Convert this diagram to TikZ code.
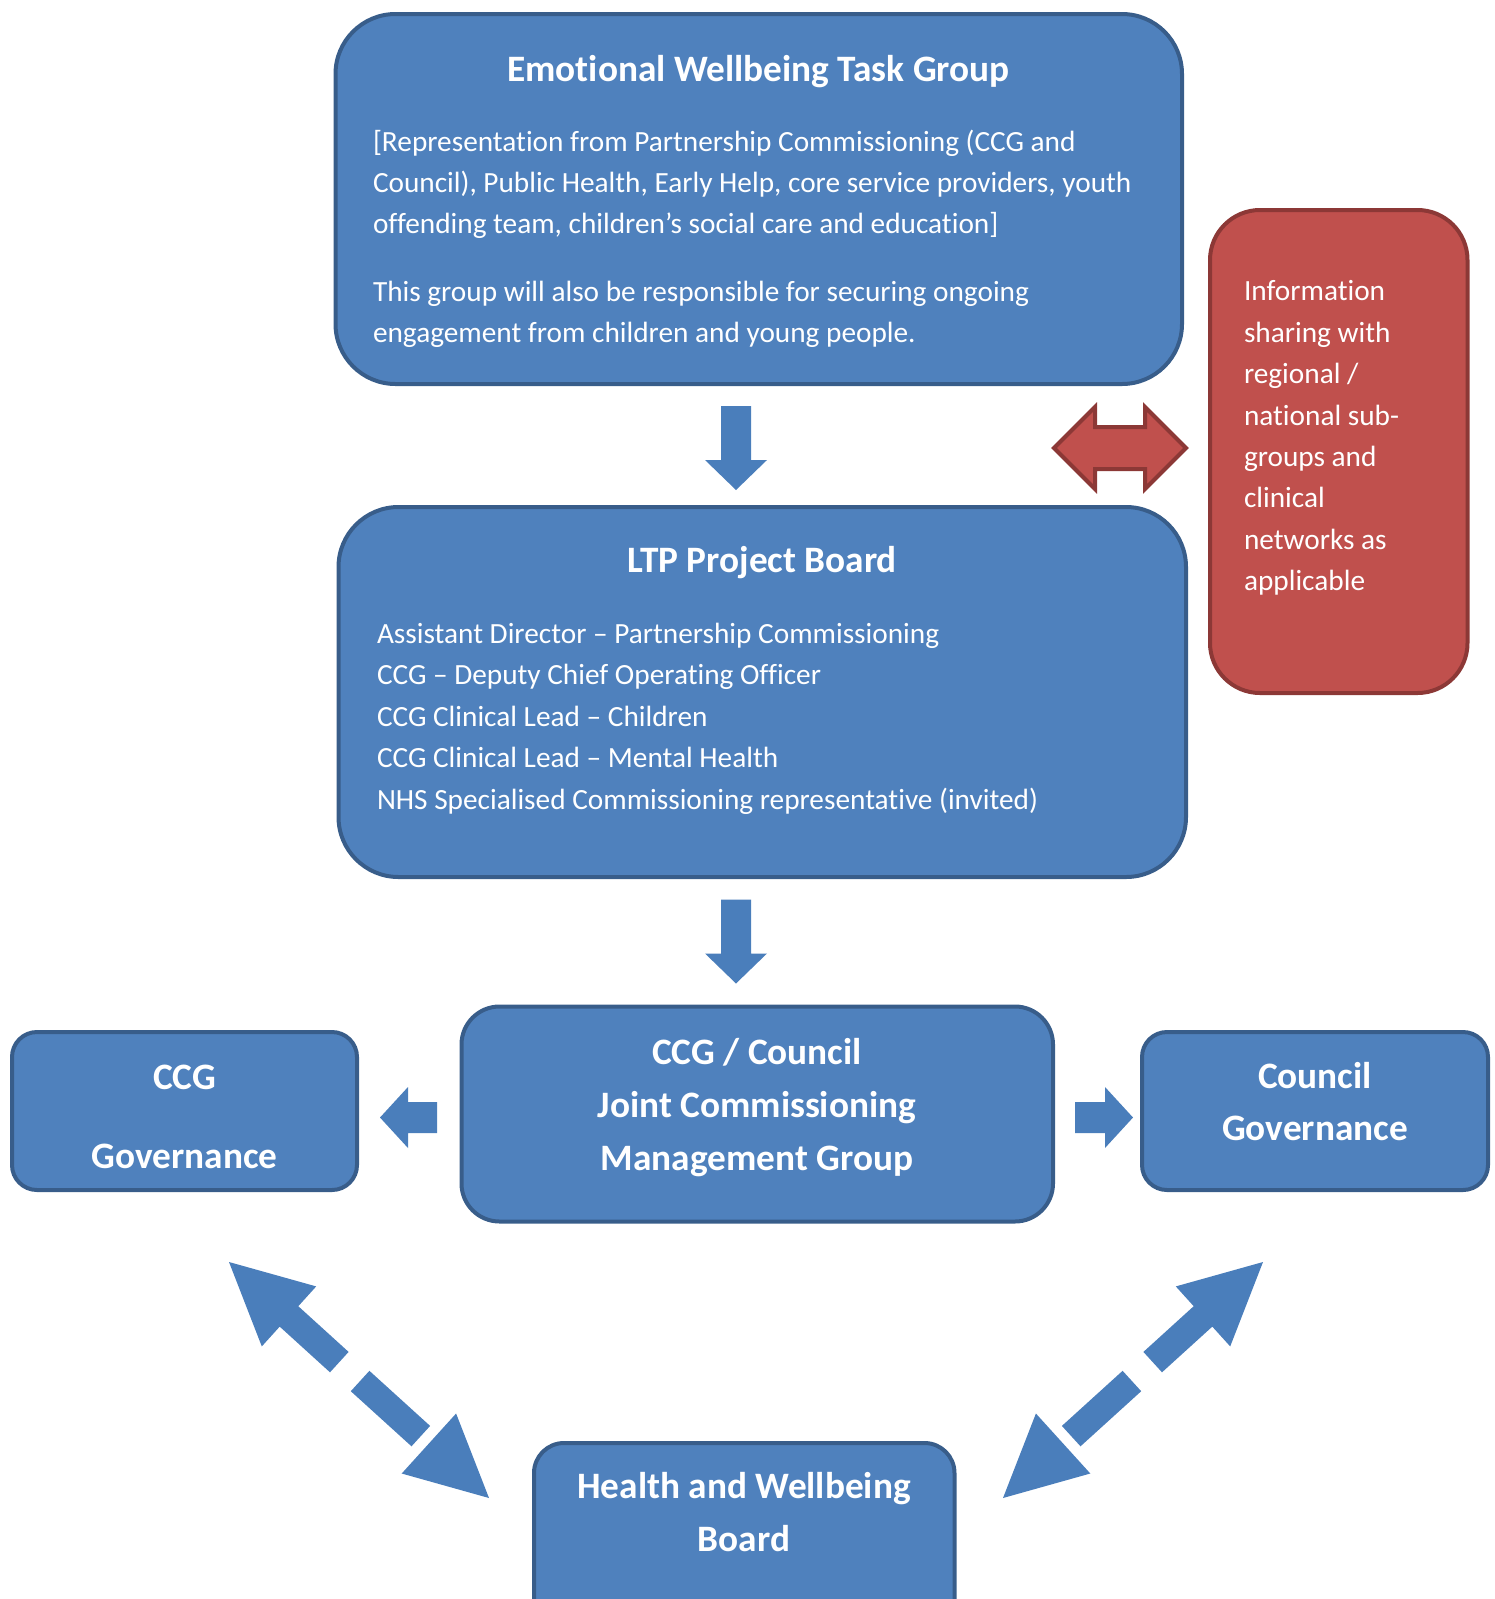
\documentclass[tikz,border=0pt]{standalone}
\usepackage{fontspec}
\setmainfont{Carlito}[Ligatures={NoCommon}]
\definecolor{boxblue}{HTML}{4F81BD}
\definecolor{boxborder}{HTML}{385D8A}
\definecolor{arrowblue}{HTML}{4A7EBB}
\definecolor{boxred}{HTML}{C0504D}
\definecolor{redborder}{HTML}{8C3836}
\tikzset{
  box/.style={draw=boxborder, fill=boxblue, line width=4pt, rounded corners=#1,
    anchor=north west, outer sep=0pt, inner sep=0pt},
  redbox/.style={draw=redborder, fill=boxred, line width=4pt, rounded corners=#1,
    anchor=north west, outer sep=0pt, inner sep=0pt},
  txt/.style={text=white, inner sep=0pt, outer sep=0pt, font=\fontsize{29.3}{35}\selectfont},
  ttl/.style={text=white, inner sep=0pt, outer sep=0pt, font=\bfseries\fontsize{37.3}{45}\selectfont},
  blockarrow/.style={fill=arrowblue, draw=none},
  redarrow/.style={fill=boxred, draw=redborder, line width=4pt, line join=miter}
}
\newcommand\DiagArrowShape{%
  \fill[blockarrow] (229,1262) -- (316.2,1286.4) -- (298.3,1306.2) -- (348.6,1351.9)
     -- (330.0,1372.3) -- (279.7,1326.6) -- (261.8,1346.4) -- cycle;
  \fill[blockarrow] (369.4,1370.8) -- (430.1,1425.9) -- (411.5,1446.3) -- (350.8,1391.2) -- cycle;
  \fill[blockarrow] (489,1498) -- (401.7,1473.5) -- (456.1,1413.5) -- cycle;
}
\newcommand\DownArrowShape[1]{%
  \fill[blockarrow] (721,#1) -- (751,#1) -- (751,#1+54) -- (767,#1+54) -- (736,#1+84)
     -- (705,#1+54) -- (721,#1+54) -- cycle;
}
\begin{document}
\begin{tikzpicture}[x=1pt,y=-1pt]
\path[use as bounding box] (0,0) rectangle (1495,1599);
\clip (0,0) rectangle (1495,1599);

% ---------------- boxes ----------------
\node[box=60pt, minimum width=846.5pt, minimum height=370pt] (ewtg) at (335.5,14) {};
\node[redbox=50pt, minimum width=257.5pt, minimum height=483pt] (info) at (1210,210) {};
\node[box=60pt, minimum width=847.5pt, minimum height=370pt] (ltp) at (338.5,507) {};
\node[box=38pt, minimum width=591.5pt, minimum height=215pt] (jcmg) at (461.5,1006.5) {};
\node[box=25pt, minimum width=345pt, minimum height=158pt] (ccg) at (12,1032) {};
\node[box=25pt, minimum width=346pt, minimum height=158pt] (cgov) at (1142,1032) {};
\node[box=30pt, minimum width=420.5pt, minimum height=197pt] (hwb) at (534,1443) {};

% ---------------- texts ----------------
\node[ttl, anchor=base] (ewtgT) at (758.5,81) {Emotional Wellbeing Task Group};
\node[txt, anchor=base west] (e1) at (373,151.5) {[Representation from Partnership Commissioning (CCG and};
\node[txt, anchor=base west] (e2) at (373,192.3) {Council), Public Health, Early Help, core service providers, youth};
\node[txt, anchor=base west] (e3) at (373,233.1) {offending team, children’s social care and education]};
\node[txt, anchor=base west] (e4) at (373,301.5) {This group will also be responsible for securing ongoing};
\node[txt, anchor=base west] (e5) at (373,342.3) {engagement from children and young people.};

\node[txt, anchor=base west] (i1) at (1244,300.8) {Information};
\node[txt, anchor=base west] (i2) at (1244,342.2) {sharing with};
\node[txt, anchor=base west] (i3) at (1244,383.6) {regional /};
\node[txt, anchor=base west] (i4) at (1244,425.0) {national sub-};
\node[txt, anchor=base west] (i5) at (1244,466.4) {groups and};
\node[txt, anchor=base west] (i6) at (1244,507.8) {clinical};
\node[txt, anchor=base west] (i7) at (1244,549.2) {networks as};
\node[txt, anchor=base west] (i8) at (1244,590.6) {applicable};

\node[ttl, anchor=base] (ltpT) at (762,572.5) {LTP Project Board};
\node[txt, anchor=base west] (l1) at (377,643.5) {Assistant Director – Partnership Commissioning};
\node[txt, anchor=base west] (l2) at (377,684.9) {CCG – Deputy Chief Operating Officer};
\node[txt, anchor=base west] (l3) at (377,726.3) {CCG Clinical Lead – Children};
\node[txt, anchor=base west] (l4) at (377,767.7) {CCG Clinical Lead – Mental Health};
\node[txt, anchor=base west] (l5) at (377,809.1) {NHS Specialised Commissioning representative (invited)};

\node[ttl, anchor=base] (j1) at (757,1064.6) {CCG / Council};
\node[ttl, anchor=base] (j2) at (757,1117.6) {Joint Commissioning};
\node[ttl, anchor=base] (j3) at (757,1170.6) {Management Group};

\node[ttl, anchor=base] (c1) at (184.5,1089) {CCG};
\node[ttl, anchor=base] (c2) at (184.5,1168.5) {Governance};

\node[ttl, anchor=base] (g1) at (1315,1088.5) {Council};
\node[ttl, anchor=base] (g2) at (1315,1140.5) {Governance};

\node[ttl, anchor=base] (h1) at (744,1498.5) {Health and Wellbeing};
\node[ttl, anchor=base] (h2) at (744,1551) {Board};

% ---------------- block arrows ----------------
\DownArrowShape{406}
\DownArrowShape{899.5}

% left arrow (to CCG governance)
\fill[blockarrow] (380,1117.5) -- (408,1087) -- (408,1102) -- (437,1102) -- (437,1133)
   -- (408,1133) -- (408,1148) -- cycle;
% right arrow (to Council governance)
\fill[blockarrow] (1133,1117.5) -- (1105,1087) -- (1105,1102) -- (1075,1102) -- (1075,1133)
   -- (1105,1133) -- (1105,1148) -- cycle;

% red double arrow
\draw[redarrow] (1054,448) -- (1095,407) -- (1095,427) -- (1145,427) -- (1145,407) -- (1186,448)
   -- (1145,489) -- (1145,469) -- (1095,469) -- (1095,489) -- cycle;

% diagonal dashed double arrows
\begin{scope}
  \DiagArrowShape
\end{scope}
\begin{scope}[xshift=1492pt, xscale=-1]
  \DiagArrowShape
\end{scope}
\end{tikzpicture}
\end{document}
